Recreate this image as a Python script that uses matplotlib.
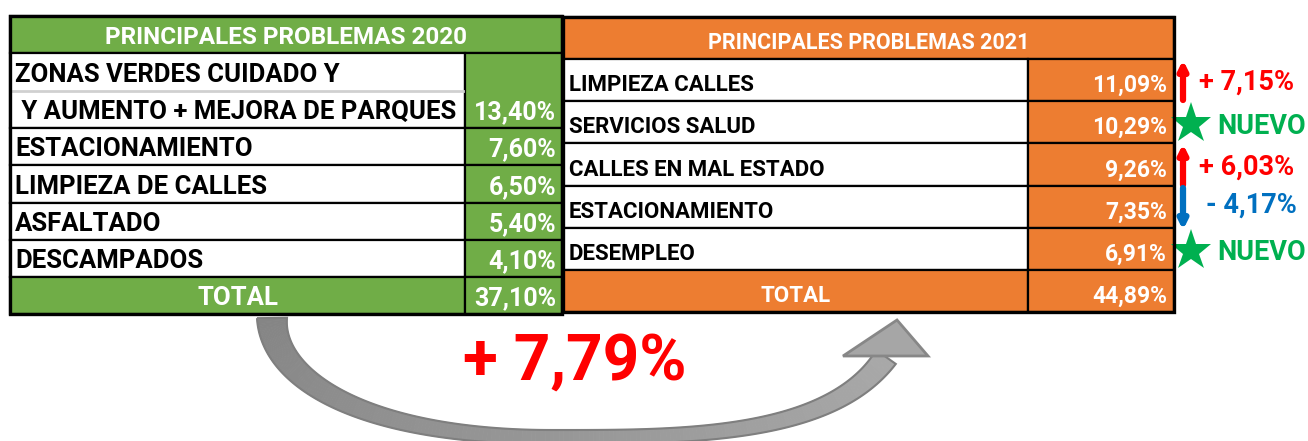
import numpy as np
import matplotlib.pyplot as plt
from matplotlib.patches import Rectangle, Polygon

# datos
labels_2020 = ['ZONAS VERDES CUIDADO Y\n Y AUMENTO + MEJORA DE PARQUES',
               'ESTACIONAMIENTO', 'LIMPIEZA DE CALLES', 'ASFALTADO', 'DESCAMPADOS']
values_2020 = [13.40, 7.60, 6.50, 5.40, 4.10]
total_2020 = 37.10

labels_2021 = ['LIMPIEZA CALLES', 'SERVICIOS SALUD', 'CALLES EN MAL ESTADO',
               'ESTACIONAMIENTO', 'DESEMPLEO']
values_2021 = [11.09, 10.29, 9.26, 7.35, 6.91]
total_2021 = 44.89
cambios_2021 = [7.15, None, 6.03, -4.17, None]   # None = nuevo
cambio_total = 7.79

titulo_2020 = 'PRINCIPALES PROBLEMAS 2020'
titulo_2021 = 'PRINCIPALES PROBLEMAS 2021'

VERDE = '#70AD47'
NARANJA = '#ED7D31'
ROJO = '#FF0000'
VERDE_N = '#00B050'
AZUL = '#0070C0'

FONT = ['Roboto', 'DejaVu Sans']


def pct(v):
    return '{:.2f}%'.format(v).replace('.', ',')


def celda(ax, x0, y0, x1, y1, fc, lw=1.6):
    ax.add_patch(Rectangle((x0, y0), x1 - x0, y1 - y0, facecolor=fc,
                           edgecolor='black', lw=lw, zorder=2))


def bezier(p0, p1, p2, p3, n=120):
    t = np.linspace(0, 1, n)[:, None]
    return ((1 - t) ** 3 * np.array(p0) + 3 * (1 - t) ** 2 * t * np.array(p1)
            + 3 * (1 - t) * t ** 2 * np.array(p2) + t ** 3 * np.array(p3))


fig = plt.figure(figsize=(13.08, 4.41), dpi=100)
ax = fig.add_axes([0, 0, 1, 1])
ax.set_xlim(0, 1308)
ax.set_ylim(441, 0)
ax.axis('off')

# ---- flecha curva gris ----
tramo_a = bezier((272, 318), (272, 378), (360, 437), (550, 437))
tramo_b = bezier((550, 437), (680, 437), (829, 439), (886, 357))
curva = np.vstack([tramo_a, tramo_b[1:]])
ta = np.linspace(0, 1, len(tramo_a))
tb = np.linspace(0, 1, len(tramo_b))[1:]
hw = np.concatenate([7 + 8 * (1 - ta) ** 1.5, 7 + 5 * tb ** 3])
d = np.gradient(curva, axis=0)
d = d / np.linalg.norm(d, axis=1)[:, None]
nrm = np.column_stack([-d[:, 1], d[:, 0]])
ext = curva + nrm * hw[:, None]
inn = curva - nrm * hw[:, None]
grises = plt.cm.gray(np.linspace(0.52, 0.66, len(curva)))
for k in range(len(curva) - 1):
    ax.add_patch(Polygon([ext[k], ext[k + 1], inn[k + 1], inn[k]], closed=True,
                         facecolor=grises[k], edgecolor=grises[k], lw=0.6,
                         zorder=1))
ax.add_patch(Polygon(np.vstack([ext, inn[::-1]]), closed=True, fill=False,
                     edgecolor='#7f7f7f', lw=1.5, zorder=1))
ax.add_patch(Polygon([[843, 356], [897, 320], [928, 356]], closed=True,
                     facecolor='#a6a6a6', edgecolor='#878787', lw=2, zorder=1))

# ---- tabla 2020 ----
lx0, lxd, lx1 = 10, 465, 562
filas_l = [53, 128, 165, 203, 240, 277, 314]
celda(ax, lx0, 16, lx1, 53, VERDE)
ax.text((lx0 + lx1) / 2, 53 - 16, titulo_2020, color='white', fontsize=17.5,
        fontweight='bold', family=FONT, ha='center', va='center', zorder=3)
for i, (lab, val) in enumerate(zip(labels_2020, values_2020)):
    y0, y1 = filas_l[i], filas_l[i + 1]
    celda(ax, lx0, y0, lxd, y1, 'white')
    celda(ax, lxd, y0, lx1, y1, VERDE)
    partes = lab.split('\n')
    if len(partes) == 2:
        ym = (y0 + y1) / 2
        ax.plot([lx0 + 2, lxd - 2], [ym, ym], color='#d0d0d0', lw=2, zorder=2)
        ax.text(lx0 + 5, ym - 16, partes[0], fontsize=18.5, fontweight='bold',
                family=FONT, va='center', zorder=3)
        ax.text(lx0 + 5, y1 - 16, partes[1], fontsize=18.5, fontweight='bold',
                family=FONT, va='center', zorder=3)
    else:
        ax.text(lx0 + 5, y1 - 16, lab, fontsize=18.5, fontweight='bold',
                family=FONT, va='center', zorder=3)
    ax.text(lx1 - 6, y1 - 16, pct(val), fontsize=18, fontweight='bold',
            color='white', family=FONT, ha='right', va='center', zorder=3)
y0, y1 = filas_l[-2], filas_l[-1]
celda(ax, lx0, y0, lxd, y1, VERDE)
celda(ax, lxd, y0, lx1, y1, VERDE)
ax.text((lx0 + lxd) / 2, y1 - 16, 'TOTAL', fontsize=18.5, fontweight='bold',
        color='white', family=FONT, ha='center', va='center', zorder=3)
ax.text(lx1 - 6, y1 - 16, pct(total_2020), fontsize=18, fontweight='bold',
        color='white', family=FONT, ha='right', va='center', zorder=3)
ax.add_patch(Rectangle((lx0, 16), lx1 - lx0, filas_l[-1] - 16, fill=False,
                       edgecolor='black', lw=2.4, zorder=4))

# ---- tabla 2021 ----
rx0, rxd, rx1 = 563, 1028, 1174
filas_r = [59, 101, 143, 186, 228, 270, 312]
celda(ax, rx0, 17, rx1, 59, NARANJA)
ax.text((rx0 + rx1) / 2, 59 - 16, titulo_2021, color='white', fontsize=15.5,
        fontweight='bold', family=FONT, ha='center', va='center', zorder=3)
for i, (lab, val) in enumerate(zip(labels_2021, values_2021)):
    y0, y1 = filas_r[i], filas_r[i + 1]
    celda(ax, rx0, y0, rxd, y1, 'white')
    celda(ax, rxd, y0, rx1, y1, NARANJA)
    ax.text(rx0 + 6, y1 - 16, lab, fontsize=16, fontweight='bold',
            family=FONT, va='center', zorder=3)
    ax.text(rx1 - 7, y1 - 16, pct(val), fontsize=16.5, fontweight='bold',
            color='white', family=FONT, ha='right', va='center', zorder=3)
y0, y1 = filas_r[-2], filas_r[-1]
celda(ax, rx0, y0, rxd, y1, NARANJA)
celda(ax, rxd, y0, rx1, y1, NARANJA)
ax.text((rx0 + rxd) / 2, y1 - 16, 'TOTAL', fontsize=16, fontweight='bold',
        color='white', family=FONT, ha='center', va='center', zorder=3)
ax.text(rx1 - 7, y1 - 16, pct(total_2021), fontsize=16.5, fontweight='bold',
        color='white', family=FONT, ha='right', va='center', zorder=3)
ax.add_patch(Rectangle((rx0, 17), rx1 - rx0, filas_r[-1] - 17, fill=False,
                       edgecolor='black', lw=2.4, zorder=4))

# ---- cambios ----
for i, c in enumerate(cambios_2021):
    y0, y1 = filas_r[i], filas_r[i + 1]
    if c is None:
        ax.plot(1191, y1 - 19, marker='*', ms=31, color=VERDE_N, mew=0, zorder=3)
        ax.text(1217, y1 - 17, 'NUEVO', fontsize=19.5, fontweight='bold',
                color=VERDE_N, family=FONT, va='center', zorder=3)
    elif c > 0:
        ax.annotate('', xy=(1183, y0 + 1), xytext=(1183, y1 - 1),
                    arrowprops=dict(arrowstyle='-|>,head_width=0.25,head_length=0.5',
                                    lw=4.5, color=ROJO, shrinkA=0, shrinkB=0))
        ax.text(1199, y1 - 19, '+ ' + pct(c), fontsize=19.5, fontweight='bold',
                color=ROJO, family=FONT, va='center', zorder=3)
    else:
        ax.annotate('', xy=(1183, y1 + 2), xytext=(1183, y0 + 2),
                    arrowprops=dict(arrowstyle='-|>,head_width=0.25,head_length=0.5',
                                    lw=4.5, color=AZUL, shrinkA=0, shrinkB=0))
        ax.text(1206, y0 + 19, '- ' + pct(-c), fontsize=19.5, fontweight='bold',
                color=AZUL, family=FONT, va='center', zorder=3)

ax.text(575, 362, '+ ' + pct(cambio_total), fontsize=46, fontweight='bold',
        color=ROJO, family=FONT, ha='center', va='center', zorder=3)

plt.savefig('out.png', dpi=100)
